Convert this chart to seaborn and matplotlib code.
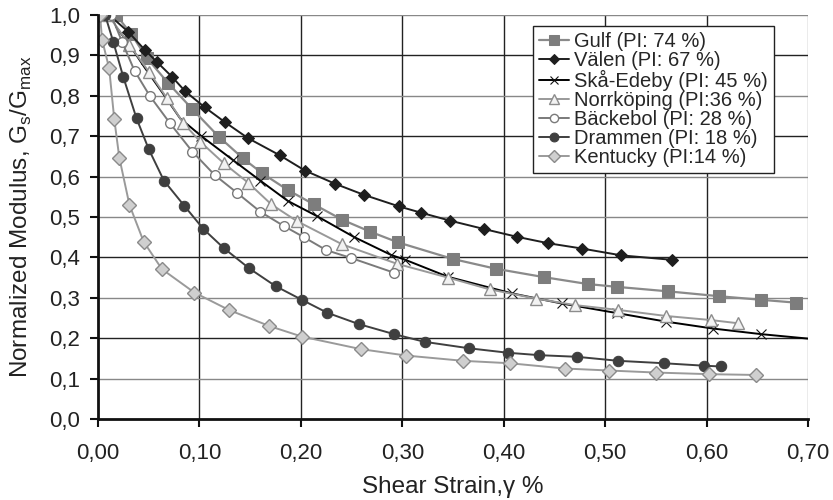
import matplotlib
matplotlib.use("Agg")
import matplotlib.pyplot as plt
import seaborn as sns
import pandas as pd

# ---------------- data ----------------
gulf_x = [0.018, 0.033, 0.048, 0.069, 0.093, 0.119, 0.143, 0.162, 0.187, 0.213, 0.241,
          0.268, 0.296, 0.350, 0.392, 0.440, 0.483, 0.512, 0.562, 0.612, 0.654, 0.688]
gulf_y = [1.000, 0.952, 0.894, 0.832, 0.767, 0.699, 0.645, 0.608, 0.567, 0.531, 0.493,
          0.464, 0.437, 0.396, 0.372, 0.351, 0.334, 0.327, 0.316, 0.304, 0.295, 0.288]

valen_x = [0.011, 0.030, 0.046, 0.058, 0.073, 0.086, 0.105, 0.125, 0.148, 0.179, 0.204,
           0.234, 0.262, 0.297, 0.318, 0.347, 0.381, 0.413, 0.444, 0.477, 0.516, 0.566]
valen_y = [1.000, 0.958, 0.914, 0.884, 0.847, 0.811, 0.772, 0.735, 0.695, 0.653, 0.615,
           0.582, 0.555, 0.526, 0.511, 0.491, 0.470, 0.451, 0.435, 0.422, 0.405, 0.394]

ska_x = [0.018, 0.030, 0.046, 0.064, 0.081, 0.102, 0.133, 0.160, 0.187, 0.216, 0.252,
         0.289, 0.303, 0.345, 0.408, 0.457, 0.512, 0.560, 0.606, 0.654, 0.700]
ska_y = [0.970, 0.930, 0.870, 0.806, 0.744, 0.700, 0.641, 0.590, 0.540, 0.502, 0.451,
         0.406, 0.394, 0.352, 0.311, 0.286, 0.262, 0.241, 0.224, 0.210, 0.199]

norr_x = [0.010, 0.031, 0.050, 0.068, 0.084, 0.101, 0.124, 0.148, 0.171, 0.196, 0.241,
          0.295, 0.345, 0.386, 0.432, 0.470, 0.513, 0.560, 0.604, 0.631]
norr_y = [1.000, 0.926, 0.860, 0.794, 0.733, 0.686, 0.633, 0.585, 0.531, 0.490, 0.432,
          0.384, 0.350, 0.321, 0.298, 0.282, 0.270, 0.255, 0.245, 0.237]

back_x = [0.013, 0.024, 0.036, 0.051, 0.071, 0.093, 0.115, 0.137, 0.160, 0.183, 0.203,
          0.225, 0.249, 0.292]
back_y = [1.000, 0.932, 0.862, 0.800, 0.732, 0.662, 0.604, 0.560, 0.513, 0.478, 0.450,
          0.418, 0.399, 0.362]

dram_x = [0.007, 0.015, 0.025, 0.038, 0.050, 0.065, 0.085, 0.104, 0.124, 0.149, 0.175,
          0.201, 0.226, 0.257, 0.292, 0.322, 0.366, 0.404, 0.435, 0.472, 0.513, 0.558,
          0.597, 0.614]
dram_y = [1.000, 0.934, 0.846, 0.744, 0.668, 0.590, 0.528, 0.470, 0.423, 0.373, 0.329,
          0.295, 0.263, 0.235, 0.210, 0.191, 0.175, 0.164, 0.158, 0.154, 0.144, 0.138,
          0.132, 0.130]

kent_x = [0.002, 0.004, 0.011, 0.016, 0.021, 0.031, 0.045, 0.063, 0.095, 0.129, 0.169,
          0.201, 0.259, 0.304, 0.360, 0.406, 0.460, 0.504, 0.550, 0.602, 0.649]
kent_y = [1.000, 0.939, 0.868, 0.743, 0.647, 0.530, 0.439, 0.371, 0.313, 0.270, 0.230,
          0.204, 0.173, 0.157, 0.144, 0.138, 0.125, 0.120, 0.115, 0.111, 0.109]

series_names = ["Gulf (PI: 74 %)", "Välen (PI: 67 %)", "Skå-Edeby (PI: 45 %)",
                "Norrköping (PI:36 %)", "Bäckebol (PI: 28 %)", "Drammen (PI: 18 %)",
                "Kentucky (PI:14 %)"]
series_data = [(gulf_x, gulf_y), (valen_x, valen_y), (ska_x, ska_y), (norr_x, norr_y),
               (back_x, back_y), (dram_x, dram_y), (kent_x, kent_y)]

x_ticks = [0.0, 0.1, 0.2, 0.3, 0.4, 0.5, 0.6, 0.7]
x_tick_labels = ["0,00", "0,10", "0,20", "0,30", "0,40", "0,50", "0,60", "0,70"]
y_ticks = [0.0, 0.1, 0.2, 0.3, 0.4, 0.5, 0.6, 0.7, 0.8, 0.9, 1.0]
y_tick_labels = ["0,0", "0,1", "0,2", "0,3", "0,4", "0,5", "0,6", "0,7", "0,8", "0,9", "1,0"]

# ---------------- styles ----------------
styles = [
    dict(color="#8a8a8a", marker="s", markersize=8, markerfacecolor="#7d7d7d",
         markeredgecolor="#7d7d7d", linewidth=1.6),
    dict(color="#1e1e1e", marker="D", markersize=6.5, markerfacecolor="#1e1e1e",
         markeredgecolor="#1e1e1e", linewidth=1.4),
    dict(color="#000000", marker="x", markersize=7, markeredgewidth=0.8,
         markerfacecolor="none", markeredgecolor="#111111", linewidth=1.4,
         markevery=list(range(5, 20))),
    dict(color="#999999", marker="^", markersize=9, markerfacecolor="#f2f2f2",
         markeredgecolor="#8c8c8c", markeredgewidth=1.0, linewidth=1.4),
    dict(color="#7a7a7a", marker="o", markersize=7, markerfacecolor="white",
         markeredgecolor="#7a7a7a", markeredgewidth=1.0, linewidth=1.4),
    dict(color="#3f3f3f", marker="o", markersize=7.5, markerfacecolor="#3f3f3f",
         markeredgecolor="#3f3f3f", linewidth=1.4),
    dict(color="#9a9a9a", marker="D", markersize=7, markerfacecolor="#cfcfcf",
         markeredgecolor="#8a8a8a", markeredgewidth=1.0, linewidth=1.4),
]

sns.set_theme(style="ticks")
plt.rcParams["font.family"] = ["Liberation Sans", "DejaVu Sans"]
plt.rcParams["mathtext.fontset"] = "custom"
plt.rcParams["mathtext.rm"] = "Liberation Sans"

fig = plt.figure(figsize=(8.33, 5.0), dpi=100)
ax = fig.add_axes([98 / 833, 1 - 419 / 500, 710 / 833, 404 / 500])

for name, (xs, ys), st in zip(series_names, series_data, styles):
    df = pd.DataFrame({"x": xs, "y": ys})
    sns.lineplot(data=df, x="x", y="y", ax=ax, sort=False, estimator=None,
                 label=name, **st)

ax.set_xlim(0, 0.70)
ax.set_ylim(0, 1.0)
ax.set_xticks(x_ticks)
ax.set_xticklabels(x_tick_labels)
ax.set_yticks(y_ticks)
ax.set_yticklabels(y_tick_labels)

ax.grid(True, linewidth=1.0)
ax.set_axisbelow(True)
ygrid_colors = ["#000000", "#888888", "#222222", "#888888", "#222222", "#888888",
                "#888888", "#222222", "#888888", "#222222", "#888888"]
for gl, c in zip(ax.get_ygridlines(), ygrid_colors):
    gl.set_color(c)
xgrid_colors = ["#000000", "#222222", "#222222", "#222222", "#222222", "#222222",
                "#222222", "#999999"]
for gl, c in zip(ax.get_xgridlines(), xgrid_colors):
    gl.set_color(c)
ax.xaxis.get_gridlines()[0].set_visible(False)
ax.yaxis.get_gridlines()[0].set_visible(False)

for s in ["top", "right"]:
    ax.spines[s].set_visible(False)
for s in ["left", "bottom"]:
    ax.spines[s].set_linewidth(2.0)
    ax.spines[s].set_color("#111111")

ax.tick_params(axis="both", direction="out", length=6, width=1.5, colors="#111111",
               labelcolor="#222222", labelsize=16)
ax.tick_params(axis="x", pad=11)
ax.tick_params(axis="y", pad=7)

ax.set_xlabel("Shear Strain,γ %", fontsize=17.5, color="#222222", labelpad=9)
ax.set_ylabel(r"Normalized Modulus, G$_\mathregular{s}$/G$_\mathregular{max}$",
              fontsize=17.5, color="#222222", labelpad=11)

leg = ax.legend(loc="upper right", bbox_to_anchor=(0.952, 0.973), borderaxespad=0,
                fontsize=14.5, frameon=True, fancybox=False, edgecolor="#222222",
                framealpha=1, handlelength=1.5, handletextpad=0.25, labelspacing=0.0,
                borderpad=0.3, markerscale=0.85)
leg.get_frame().set_linewidth(1.0)

fig.savefig("out.png", dpi=100)
